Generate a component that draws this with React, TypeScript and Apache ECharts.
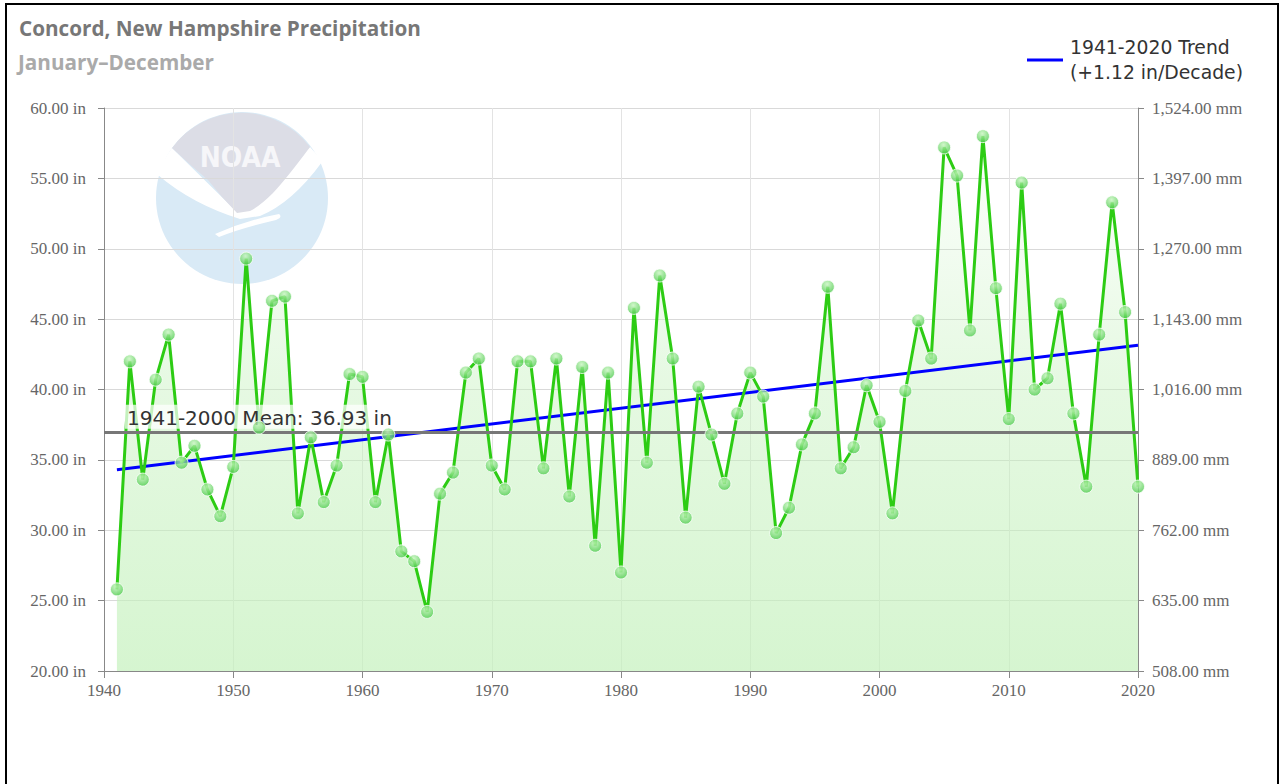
import React, { useEffect, useRef } from "react";
import * as echarts from "echarts";

const YEARS = [
  1941, 1942, 1943, 1944, 1945, 1946, 1947, 1948, 1949, 1950,
  1951, 1952, 1953, 1954, 1955, 1956, 1957, 1958, 1959, 1960,
  1961, 1962, 1963, 1964, 1965, 1966, 1967, 1968, 1969, 1970,
  1971, 1972, 1973, 1974, 1975, 1976, 1977, 1978, 1979, 1980,
  1981, 1982, 1983, 1984, 1985, 1986, 1987, 1988, 1989, 1990,
  1991, 1992, 1993, 1994, 1995, 1996, 1997, 1998, 1999, 2000,
  2001, 2002, 2003, 2004, 2005, 2006, 2007, 2008, 2009, 2010,
  2011, 2012, 2013, 2014, 2015, 2016, 2017, 2018, 2019, 2020,
];

const PRECIP = [
  25.8, 42.0, 33.6, 40.7, 43.9, 34.8, 36.0, 32.9, 31.0, 34.5,
  49.3, 37.3, 46.3, 46.6, 31.2, 36.6, 32.0, 34.6, 41.1, 40.9,
  32.0, 36.8, 28.5, 27.8, 24.2, 32.6, 34.1, 41.2, 42.2, 34.6,
  32.9, 42.0, 42.0, 34.4, 42.2, 32.4, 41.6, 28.9, 41.2, 27.0,
  45.8, 34.8, 48.1, 42.2, 30.9, 40.2, 36.8, 33.3, 38.3, 41.2,
  39.5, 29.8, 31.6, 36.1, 38.3, 47.3, 34.4, 35.9, 40.3, 37.7,
  31.2, 39.9, 44.9, 42.2, 57.2, 55.2, 44.2, 58.0, 47.2, 37.9,
  54.7, 40.0, 40.8, 46.1, 38.3, 33.1, 43.9, 53.3, 45.5, 33.1,
];

const TREND_YEARS = [1941, 2020];
const TREND_VALUES = [34.3, 43.15];
const MEAN_VALUE = 36.93;

const TITLE = "Concord, New Hampshire Precipitation";
const SUBTITLE = "January\u2013December";
const TREND_NAME = "1941-2020 Trend";
const TREND_SUB = "(+1.12 in/Decade)";
const MEAN_LABEL = "1941-2000 Mean: 36.93 in";

const X_MIN = 1940;
const X_MAX = 2020;
const X_STEP = 10;
const IN_MIN = 20;
const IN_MAX = 60;
const IN_STEP = 5;
const MM_PER_IN = 25.4;

const GREY_PATH =
  "M -70 -50 A 86 86 0 0 1 68 -51 Q 45 -20 31 -5 Q 18 8 8 13 L -5 15 Q -20 0 -34 -18 Q -52 -33 -70 -50 Z";
const WING_PATH =
  "M -70 -50 L -5 14 L 8 12 L 68 -51 A 86 86 0 0 1 80 -36 Q 50 5 18 18 L -2 21 Q -50 6 -84 -23 A 86 86 0 0 1 -70 -50 Z";
const TAIL_PATH = "M -27 36 Q 5 22 37 16 Q 41 19 34 22 Q 0 30 -23 39 Z";

let registered = false;
function registerLogo() {
  if (registered) return;
  registered = true;
  echarts.graphic.registerShape("noaaGrey", echarts.graphic.extendPath(GREY_PATH, {}) as any);
  echarts.graphic.registerShape("noaaWing", echarts.graphic.extendPath(WING_PATH, {}) as any);
  echarts.graphic.registerShape("noaaTail", echarts.graphic.extendPath(TAIL_PATH, {}) as any);
}

const SERIF = "'Liberation Serif', 'Times New Roman', serif";
const SANS = "'DejaVu Sans', Verdana, sans-serif";
const AXIS_FONT = 17;

export default function App() {
  const ref = useRef<HTMLDivElement>(null);

  useEffect(() => {
    if (!ref.current) return;
    registerLogo();
    const chart = echarts.init(ref.current, undefined, { renderer: "svg" });
    const points = YEARS.map((y, i) => [y, PRECIP[i]]);
    const trend = TREND_YEARS.map((y, i) => [y, TREND_VALUES[i]]);

    const option: any = {
      animation: false,
      backgroundColor: "#ffffff",
      title: [
        {
          text: TITLE,
          left: 19,
          top: 17,
          padding: 0,
          textStyle: {
            fontFamily: "'Open Sans', sans-serif",
            fontWeight: "bold",
            fontSize: 20.7,
            color: "#777777",
          },
        },
        {
          text: SUBTITLE,
          left: 18,
          top: 51,
          padding: 0,
          textStyle: {
            fontFamily: "'Open Sans', sans-serif",
            fontWeight: "bold",
            fontSize: 20.7,
            color: "#aaaaaa",
          },
        },
      ],
      legend: {
        left: 1027,
        top: 35,
        padding: 0,
        itemWidth: 36,
        itemHeight: 3,
        data: [{ name: TREND_NAME, icon: "rect" }],
        formatter: () => TREND_NAME + "\n" + TREND_SUB,
        textStyle: {
          fontFamily: SANS,
          fontSize: 18.8,
          lineHeight: 25,
          color: "#333333",
          padding: [0, 0, 0, 2],
        },
      },
      grid: { left: 104, right: 143, top: 108, bottom: 113 },
      graphic: [
        {
          type: "group",
          x: 242,
          y: 198,
          z: -10,
          silent: true,
          children: [
            { type: "circle", shape: { cx: 0, cy: 0, r: 86 }, style: { fill: "#d9eaf6" }, z: -10 },
            { type: "noaaWing", style: { fill: "#ffffff" }, z: -10 },
            { type: "noaaGrey", style: { fill: "#dcdde6" }, z: -10 },
            { type: "noaaTail", style: { fill: "#ffffff" }, z: -10 },
            {
              type: "text",
              x: -2,
              y: -41,
              z: -10,
              style: {
                text: "NOAA",
                fill: "#f6f6f9",
                font: "bold 28px 'DejaVu Sans Condensed', sans-serif",
                align: "center",
                verticalAlign: "middle",
              },
            },
          ],
        },
      ],
      xAxis: {
        type: "value",
        min: X_MIN,
        max: X_MAX,
        interval: X_STEP,
        axisLine: { show: true, lineStyle: { color: "#888888", width: 1 } },
        axisTick: { show: true, length: 7, lineStyle: { color: "#888888" } },
        axisLabel: {
          margin: 11,
          fontFamily: SERIF,
          fontSize: AXIS_FONT,
          color: "#666666",
          formatter: (v: number) => String(v),
        },
        splitLine: { show: true, lineStyle: { color: "#e3e3e3", width: 1 } },
      },
      yAxis: [
        {
          type: "value",
          min: IN_MIN,
          max: IN_MAX,
          interval: IN_STEP,
          position: "left",
          axisLine: { show: true, lineStyle: { color: "#888888", width: 1 } },
          axisTick: { show: true, length: 6, lineStyle: { color: "#888888" } },
          axisLabel: {
            margin: 18,
            fontFamily: SERIF,
            fontSize: AXIS_FONT,
            color: "#666666",
            formatter: (v: number) => v.toFixed(2) + " in",
          },
          splitLine: { show: true, lineStyle: { color: "#d9d9d9", width: 1 } },
        },
        {
          type: "value",
          min: IN_MIN * MM_PER_IN,
          max: IN_MAX * MM_PER_IN,
          interval: IN_STEP * MM_PER_IN,
          position: "right",
          axisLine: { show: true, lineStyle: { color: "#888888", width: 1 } },
          axisTick: { show: true, length: 6, lineStyle: { color: "#888888" } },
          axisLabel: {
            margin: 14,
            fontFamily: SERIF,
            fontSize: AXIS_FONT,
            color: "#666666",
            formatter: (v: number) =>
              v.toLocaleString("en-US", { minimumFractionDigits: 2, maximumFractionDigits: 2 }) + " mm",
          },
          splitLine: { show: false },
        },
      ],
      series: [
        {
          name: "Area",
          type: "line",
          data: points,
          z: 1,
          symbol: "none",
          lineStyle: { width: 0, opacity: 0 },
          areaStyle: {
            origin: "start",
            color: {
              type: "linear",
              x: 0,
              y: 0,
              x2: 0,
              y2: 1,
              colorStops: [
                { offset: 0, color: "rgba(196,241,188,0.05)" },
                { offset: 0.45, color: "rgba(196,241,188,0.6)" },
                { offset: 1, color: "rgba(196,241,188,1)" },
              ],
            },
          },
          silent: true,
        },
        {
          name: TREND_NAME,
          type: "line",
          data: trend,
          z: 3,
          symbol: "none",
          lineStyle: { color: "#0000ff", width: 3 },
          itemStyle: { color: "#0000ff" },
          silent: true,
        },
        {
          name: "Precipitation",
          type: "line",
          data: points,
          z: 4,
          symbol: "none",
          lineStyle: { color: "#2dcc14", width: 3 },
          silent: true,
        },
        {
          name: "Mean",
          type: "line",
          data: [],
          z: 5,
          silent: true,
          markLine: {
            silent: true,
            symbol: "none",
            data: [{ yAxis: MEAN_VALUE }],
            lineStyle: { color: "#777777", width: 3, type: "solid" },
            label: {
              show: true,
              position: "insideStartTop",
              formatter: () => MEAN_LABEL,
              fontFamily: SANS,
              fontSize: 20,
              color: "#333333",
              backgroundColor: "rgba(255,255,255,0.72)",
              padding: [3, 2, 1, 2],
              distance: [21, 4],
            },
          },
        },
        {
          name: "Points",
          type: "scatter",
          data: points,
          z: 6,
          symbol: "circle",
          symbolSize: 13,
          silent: true,
          itemStyle: {
            color: {
              type: "radial",
              x: 0.45,
              y: 0.3,
              r: 0.75,
              colorStops: [
                { offset: 0, color: "#c6f5be" },
                { offset: 1, color: "#45c845" },
              ],
            },
            borderColor: "#ffffff",
            borderWidth: 1,
          },
        },
      ],
    };

    chart.setOption(option);
    return () => chart.dispose();
  }, []);

  return (
    <>
      <div
        ref={ref}
        style={{ position: "fixed", left: 0, top: 0, width: 1281, height: 784 }}
      />
      <div
        style={{
          position: "fixed",
          left: 5,
          top: 3,
          width: 1274,
          height: 800,
          boxSizing: "border-box",
          border: "2px solid #000000",
          pointerEvents: "none",
        }}
      />
    </>
  );
}
